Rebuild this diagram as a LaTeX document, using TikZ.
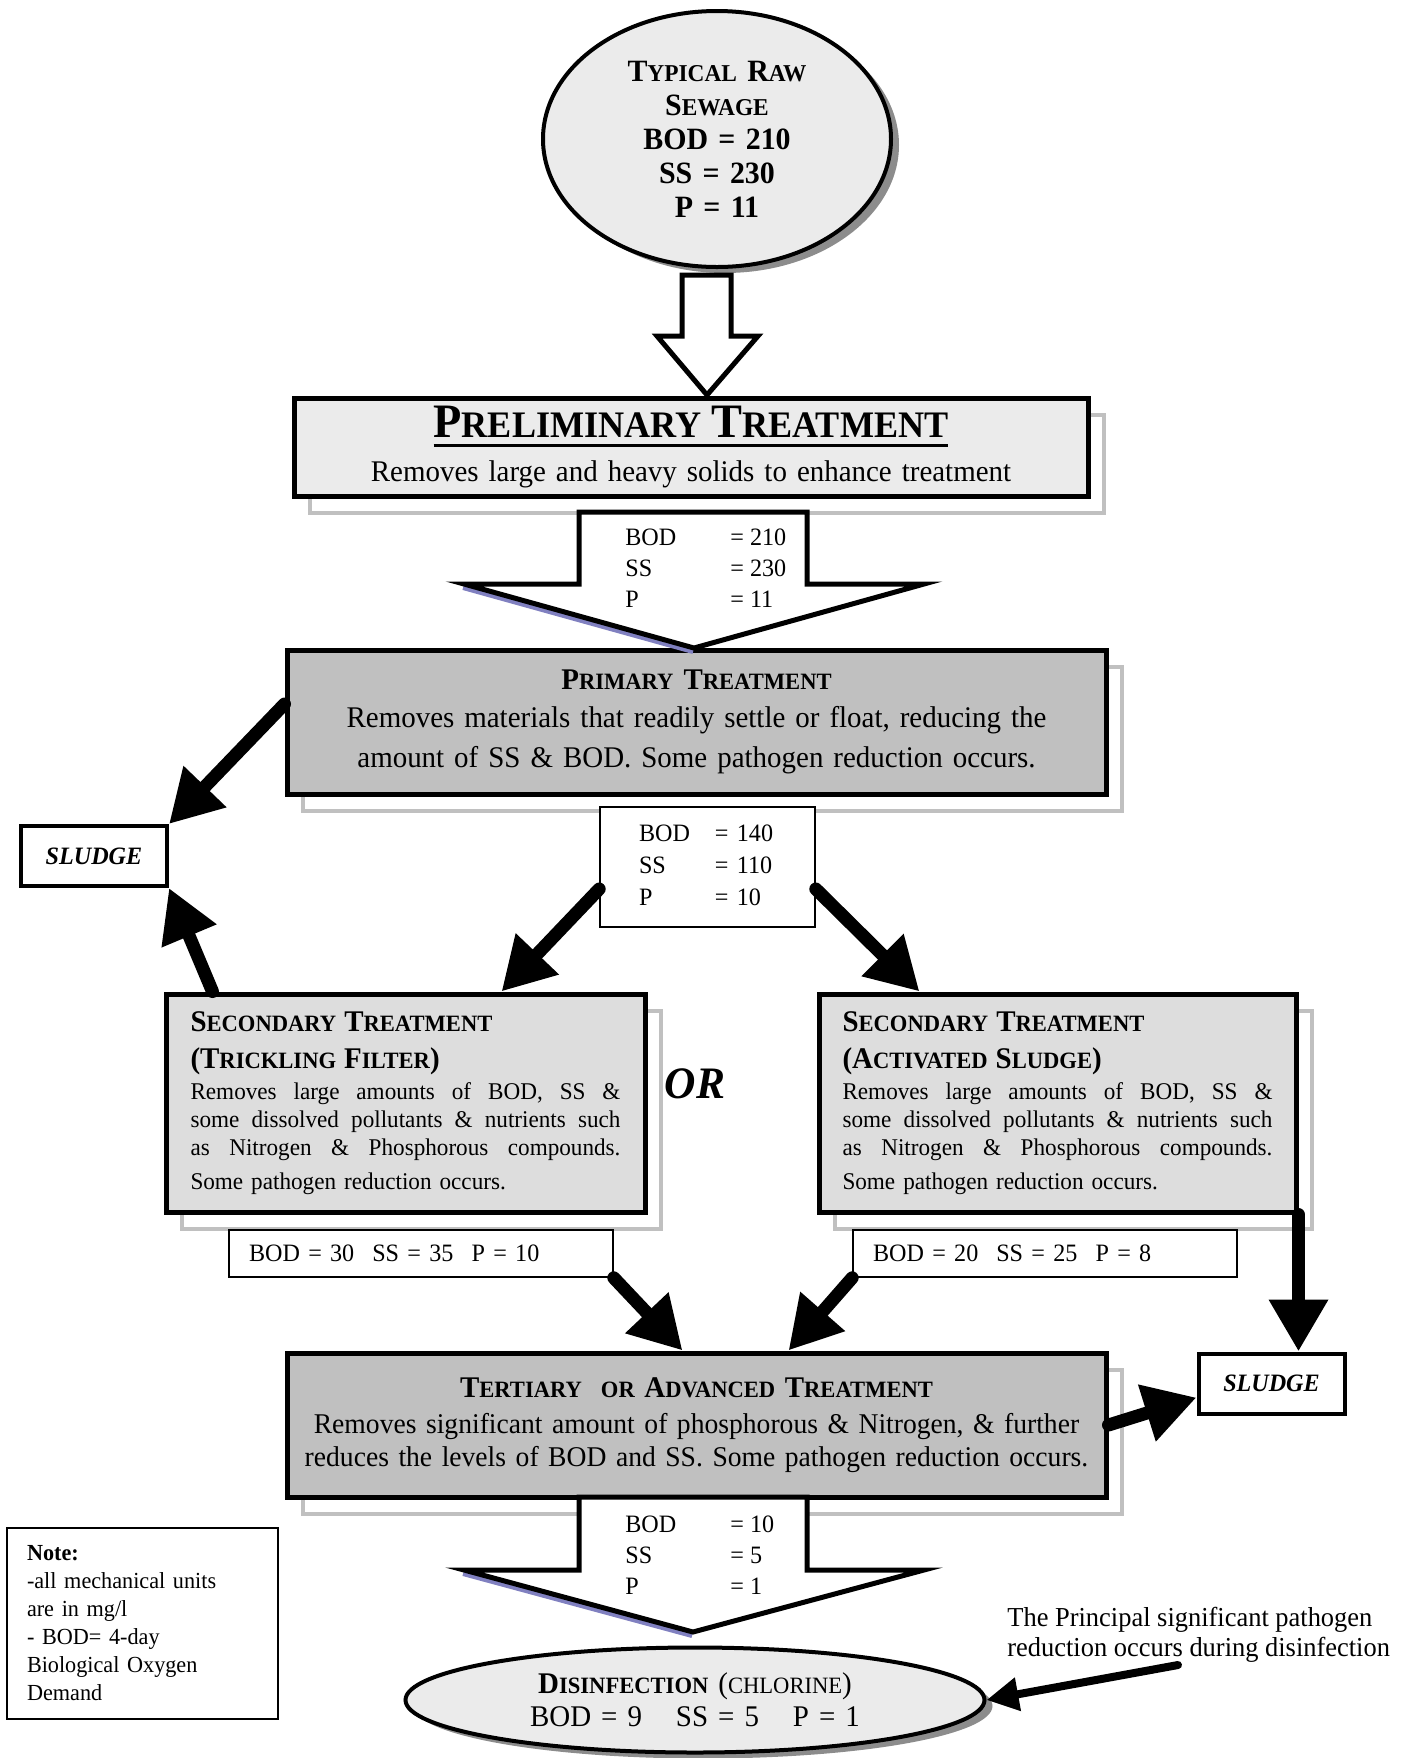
\documentclass[tikz,border=0pt]{standalone}
\usepackage{fontspec}
\setmainfont{Liberation Serif}[FakeStretch=0.965]
\usetikzlibrary{arrows.meta,shapes.geometric,shadows}

\makeatletter
\newcommand\sk[2]{#1{\fontsize{\fpeval{0.78*\f@size}}{0}\selectfont #2}}
\makeatother
\newcommand\fs[2]{\fontsize{#1}{#2}\selectfont}
\newcommand\thickul[1]{\setbox0\hbox{#1}\rlap{\rule[-5pt]{\wd0}{1.5pt}}\box0}
\newcommand\jline[1]{\leavevmode\hbox to 215pt{\spaceskip=0.25em plus 3em\relax #1}}

\definecolor{shgray}{HTML}{C0C0C0}
\definecolor{litegray}{HTML}{EBEBEB}
\definecolor{midgray}{HTML}{DDDDDD}
\definecolor{boxgray}{HTML}{C0C0C0}
\definecolor{shadeblue}{HTML}{8080C0}

\tikzset{
  box/.style={rectangle,draw,line width=2.5pt,inner sep=0pt,
    drop shadow={shadow xshift=8pt,shadow yshift=-8.5pt,fill=white,draw=shgray,line width=2pt,opacity=1}},
  oval/.style={ellipse,draw,line width=2pt,fill=litegray,inner sep=0pt,
    drop shadow={shadow xshift=4pt,shadow yshift=-3pt,fill=black!45,opacity=1}},
  thinbox/.style={rectangle,draw,line width=0.8pt,fill=white,inner sep=0pt},
  slbox/.style={rectangle,draw,line width=2pt,fill=white,inner sep=0pt,
    minimum width=73pt,minimum height=30pt,font={\fs{12.5}{15}\bfseries\itshape}},
  fat/.style={line width=6.5pt,line cap=round,-{Triangle[length=26pt,width=28pt]}},
  hollow/.style={draw,line width=2.5pt,fill=white,line join=miter},
}

\begin{document}
\begin{tikzpicture}[x=0.5pt,y=-0.5pt]
\useasboundingbox (0,0) rectangle (1414,1758);

% boxes
\node[oval,minimum width=174pt,minimum height=128pt,text width=100pt,align=center,
  font={\fs{15.5}{17}\bfseries}] (raw) at (717,139)
  {\sk{T}{YPICAL} \sk{R}{AW}\\\sk{S}{EWAGE}\\BOD = 210\\SS = 230\\P = 11};

\node[box,fill=litegray,minimum width=397pt,minimum height=49pt,text width=390pt,
  align=center,font={\fs{15}{22}}] (prelim) at (691,447)
  {\thickul{\bfseries\fs{24}{24}\sk{P}{RELIMINARY} \sk{T}{REATMENT}}\\
   Removes large and heavy solids to enhance treatment};

\node[box,fill=boxgray,minimum width=409.5pt,minimum height=72pt,text width=405pt,
  align=center,font={\fs{15}{20}}] (prim) at (696.5,722)
  {{\bfseries\sk{P}{RIMARY} \sk{T}{REATMENT}}\\[-1pt]
   Removes materials that readily settle or float, reducing the\\
   amount of SS \& BOD. Some pathogen reduction occurs.};

\node[slbox] (slL) at (94,856) {SLUDGE};

\node[thinbox,minimum width=107.5pt,minimum height=60pt,text width=68.5pt,align=left,
  font={\fs{12.5}{16}}] (n140) at (707.5,867)
  {\begin{tabular}{@{}p{38pt}@{}l@{}}BOD & = 140\\SS & = 110\\P & = 10\end{tabular}};

\node[box,fill=midgray,minimum width=239.5pt,minimum height=109pt,text width=215pt,
  align=left,font={\fs{12}{14}}] (secL) at (405.5,1103)
  {{\fs{15}{14}\bfseries\sk{S}{ECONDARY} \sk{T}{REATMENT}}\\[4.5pt]
   {\fs{15}{14}\bfseries(\sk{T}{RICKLING} \sk{F}{ILTER})}\\[1.5pt]
   \jline{Removes large amounts of BOD, SS \&}\\
   \jline{some dissolved pollutants \& nutrients such}\\
   \jline{as Nitrogen \& Phosphorous compounds.}\\[3pt]
   Some pathogen reduction occurs.};

\node[box,fill=midgray,minimum width=238.5pt,minimum height=109pt,text width=215pt,
  align=left,font={\fs{12}{14}}] (secR) at (1057.5,1103)
  {{\fs{15}{14}\bfseries\sk{S}{ECONDARY} \sk{T}{REATMENT}}\\[4.5pt]
   {\fs{15}{14}\bfseries(\sk{A}{CTIVATED} \sk{S}{LUDGE})}\\[1.5pt]
   \jline{Removes large amounts of BOD, SS \&}\\
   \jline{some dissolved pollutants \& nutrients such}\\
   \jline{as Nitrogen \& Phosphorous compounds.}\\[3pt]
   Some pathogen reduction occurs.};

\node[font={\fs{22.5}{24}\bfseries\itshape}] (or) at (695,1084) {OR};

\node[thinbox,minimum width=192pt,minimum height=23.5pt,text width=172pt,align=left,
  font={\fs{12.5}{15}}] (numsL) at (421,1253.5)
  {BOD = 30\hspace{9pt}SS = 35\hspace{9pt}P = 10};
\node[thinbox,minimum width=192pt,minimum height=23.5pt,text width=172pt,align=left,
  font={\fs{12.5}{15}}] (numsR) at (1045,1253.5)
  {BOD = 20\hspace{9pt}SS = 25\hspace{9pt}P = 8};

\node[box,fill=boxgray,minimum width=409.5pt,minimum height=72pt,text width=409pt,
  align=center,font={\fs{14.3}{16.5}}] (tert) at (696.5,1425)
  {{\fs{15}{16.5}\bfseries\sk{T}{ERTIARY}\ \ \sk{}{OR} \sk{A}{DVANCED} \sk{T}{REATMENT}}\\[1.5pt]
   Removes significant amount of phosphorous \& Nitrogen, \& further\\
   reduces the levels of BOD and SS. Some pathogen reduction occurs.};

\node[slbox] (slR) at (1271.5,1383.5) {SLUDGE};

\node[oval,minimum width=289.5pt,minimum height=52.5pt,text width=180pt,align=center,
  font={\fs{15}{16.5}}] (dis) at (695,1700)
  {{\bfseries\sk{D}{ISINFECTION}} (\sk{}{CHLORINE})\\BOD = 9\hspace{17pt}SS = 5\hspace{17pt}P = 1};

\node[thinbox,minimum width=135.5pt,minimum height=95.5pt,text width=115.5pt,align=left,
  font={\fs{11.5}{14}}] (note) at (142.5,1623.5)
  {\textbf{Note:}\\-all mechanical units\\are in mg/l\\- BOD= 4-day\\Biological Oxygen\\Demand};

\node[anchor=west,inner sep=0pt,align=left,font={\fs{13.7}{15}}] (ann) at (1007,1635)
  {The Principal significant pathogen\\reduction occurs during disinfection};
\coordinate (annend) at (1178,1665);

% hollow arrows
\draw[hollow] (682,275) -- (731,275) -- (731,336) -- (758,336) -- (707,395) -- (657,336) -- (682,336) -- cycle;

\draw[shadeblue,line width=2pt] (463,588) -- (693,652);
\draw[hollow] (579,512) -- (807,512) -- (807,584) -- (924,584) -- (694,648) -- (464,584) -- (579,584) -- cycle;
\node[anchor=west,inner sep=0pt,font={\fs{12.5}{15.5}}] (v1) at (625,570)
  {\begin{tabular}{@{}p{52.5pt}@{}l@{}}BOD & = 210\\SS & = 230\\P & = 11\end{tabular}};

\draw[shadeblue,line width=2pt] (463,1574) -- (692,1636);
\draw[hollow] (579,1497) -- (807,1497) -- (807,1570) -- (924,1570) -- (693,1632) -- (464,1570) -- (579,1570) -- cycle;
\node[anchor=west,inner sep=0pt,font={\fs{12.5}{15.5}}] (v3) at (625,1557)
  {\begin{tabular}{@{}p{52.5pt}@{}l@{}}BOD & = 10\\SS & = 5\\P & = 1\end{tabular}};

% solid arrows
\draw[fat] ([yshift=9pt]prim.west) -- (slL.north east);
\draw[fat] ([xshift=24.5pt]secL.north west) -- (slL.south east);
\draw[fat] ([yshift=-11pt]n140.west) -- ([xshift=48pt]secL.north);
\draw[fat] ([yshift=-11pt]n140.east) -- ([xshift=-69pt]secR.north);
\draw[fat] (numsL.south east) -- ([xshift=-7pt]tert.north);
\draw[fat] (numsR.south west) -- ([xshift=46pt]tert.north);
\draw[fat] (secR.south east) -- (secR.south east |- slR.north);
\draw[fat] (tert.east) -- ([yshift=-7pt]slR.west);
\draw[fat,line width=4pt,-{Triangle[length=16pt,width=16pt]}] (annend) -- (dis.east);

\end{tikzpicture}
\end{document}
